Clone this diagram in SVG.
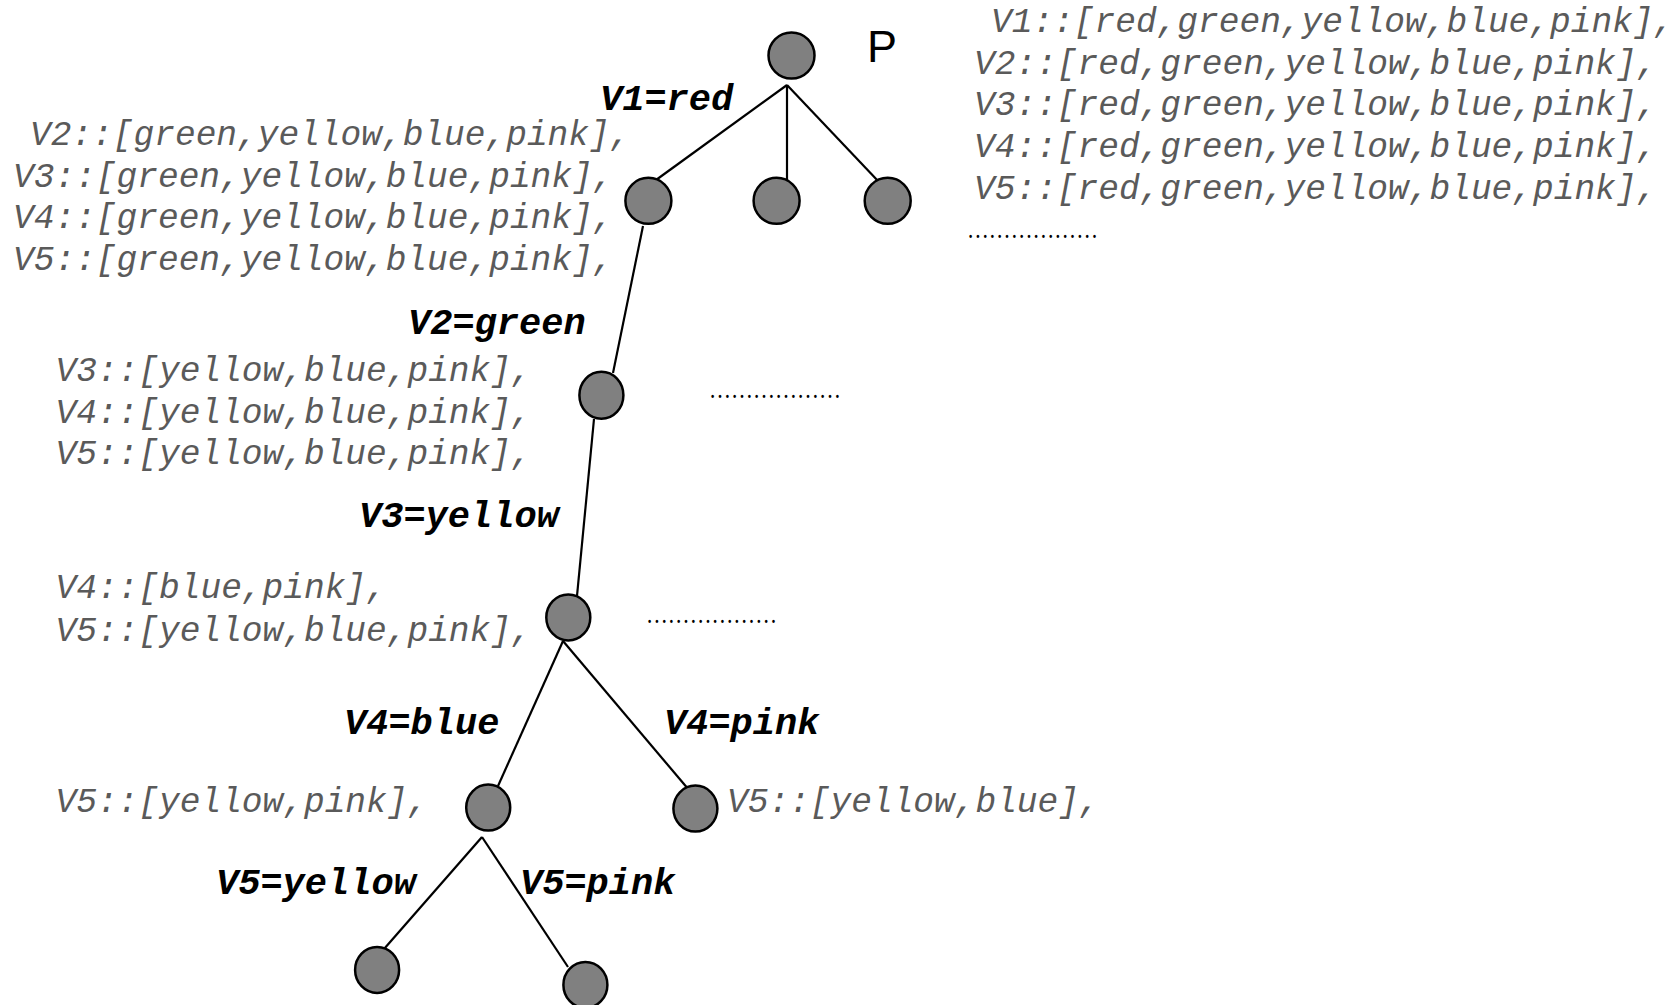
<svg xmlns="http://www.w3.org/2000/svg" width="1675" height="1005" viewBox="0 0 1675 1005">
<style>
.node{fill:#808080;stroke:#000;stroke-width:2.5}
.edge{stroke:#000;stroke-width:2.2;fill:none}
.lbl{font-family:"Liberation Mono","DejaVu Sans Mono",monospace;font-weight:bold;font-style:italic;font-size:37px;fill:#000}
.dom{font-family:"Liberation Mono","DejaVu Sans Mono",monospace;font-style:italic;font-size:34.5px;fill:#5a5a5a}
.dots{font-family:"Liberation Serif",serif;font-size:27px;fill:#000}
.p{font-family:"Liberation Sans",Arial,sans-serif;font-size:45px;fill:#000}
</style>
<rect width="1675" height="1005" fill="#fff"/>
<g id="connectors">
<line class="edge" x1="787" y1="85" x2="656" y2="180"/>
<line class="edge" x1="787" y1="85" x2="787" y2="180"/>
<line class="edge" x1="787" y1="85" x2="879" y2="182"/>
<line class="edge" x1="643" y1="226" x2="613" y2="373"/>
<line class="edge" x1="594" y1="419" x2="577" y2="596"/>
<line class="edge" x1="563" y1="641" x2="498" y2="786"/>
<line class="edge" x1="563" y1="641" x2="689" y2="790"/>
<line class="edge" x1="482" y1="837" x2="384" y2="949"/>
<line class="edge" x1="482" y1="837" x2="568" y2="967"/>
</g>
<g id="node-root"><ellipse class="node" cx="791.5" cy="55.5" rx="23" ry="23"/><text class="p" x="867" y="62">P</text></g>
<g id="node-v1-red"><ellipse class="node" cx="648.4" cy="200.8" rx="23" ry="23"/></g>
<g id="node-v1-b"><ellipse class="node" cx="776.6" cy="200.8" rx="23" ry="23"/></g>
<g id="node-v1-c"><ellipse class="node" cx="887.7" cy="200.8" rx="23" ry="23"/></g>
<g id="node-v2-green"><ellipse class="node" cx="601.4" cy="395.2" rx="22" ry="23.5"/></g>
<g id="node-v3-yellow"><ellipse class="node" cx="568.3" cy="617.4" rx="22" ry="23"/></g>
<g id="node-v4-blue"><ellipse class="node" cx="488.2" cy="807.6" rx="22" ry="23"/></g>
<g id="node-v4-pink"><ellipse class="node" cx="695.4" cy="808.6" rx="22" ry="23"/></g>
<g id="node-v5-yellow"><ellipse class="node" cx="377.1" cy="969.9" rx="22" ry="23"/></g>
<g id="node-v5-pink"><ellipse class="node" cx="585.4" cy="984.9" rx="22" ry="23"/></g>
<g id="labels">
<text class="lbl" x="600" y="110">V1=red</text>
<text class="lbl" x="408" y="334">V2=green</text>
<text class="lbl" x="359" y="527">V3=yellow</text>
<text class="lbl" x="344" y="734">V4=blue</text>
<text class="lbl" x="664" y="734">V4=pink</text>
<text class="lbl" x="216" y="894">V5=yellow</text>
<text class="lbl" x="520" y="894">V5=pink</text>
</g>
<g id="domains">
<text class="dom" x="991" y="32">V1::[red,green,yellow,blue,pink],</text>
<text class="dom" x="974" y="74">V2::[red,green,yellow,blue,pink],</text>
<text class="dom" x="974" y="115">V3::[red,green,yellow,blue,pink],</text>
<text class="dom" x="974" y="157">V4::[red,green,yellow,blue,pink],</text>
<text class="dom" x="974" y="199">V5::[red,green,yellow,blue,pink],</text>
<text class="dots" x="967" y="238" textLength="131" lengthAdjust="spacingAndGlyphs">………………</text>
<text class="dom" x="30" y="145">V2::[green,yellow,blue,pink],</text>
<text class="dom" x="13" y="186.5">V3::[green,yellow,blue,pink],</text>
<text class="dom" x="13" y="228">V4::[green,yellow,blue,pink],</text>
<text class="dom" x="13" y="269.5">V5::[green,yellow,blue,pink],</text>
<text class="dom" x="55.5" y="381">V3::[yellow,blue,pink],</text>
<text class="dom" x="55.5" y="422.5">V4::[yellow,blue,pink],</text>
<text class="dom" x="55.5" y="464">V5::[yellow,blue,pink],</text>
<text class="dots" x="709" y="398" textLength="132" lengthAdjust="spacingAndGlyphs">………………</text>
<text class="dom" x="55.5" y="598">V4::[blue,pink],</text>
<text class="dom" x="55.5" y="641">V5::[yellow,blue,pink],</text>
<text class="dots" x="646" y="623" textLength="131" lengthAdjust="spacingAndGlyphs">………………</text>
<text class="dom" x="55.5" y="812">V5::[yellow,pink],</text>
<text class="dom" x="727" y="812">V5::[yellow,blue],</text>
</g>
</svg>
